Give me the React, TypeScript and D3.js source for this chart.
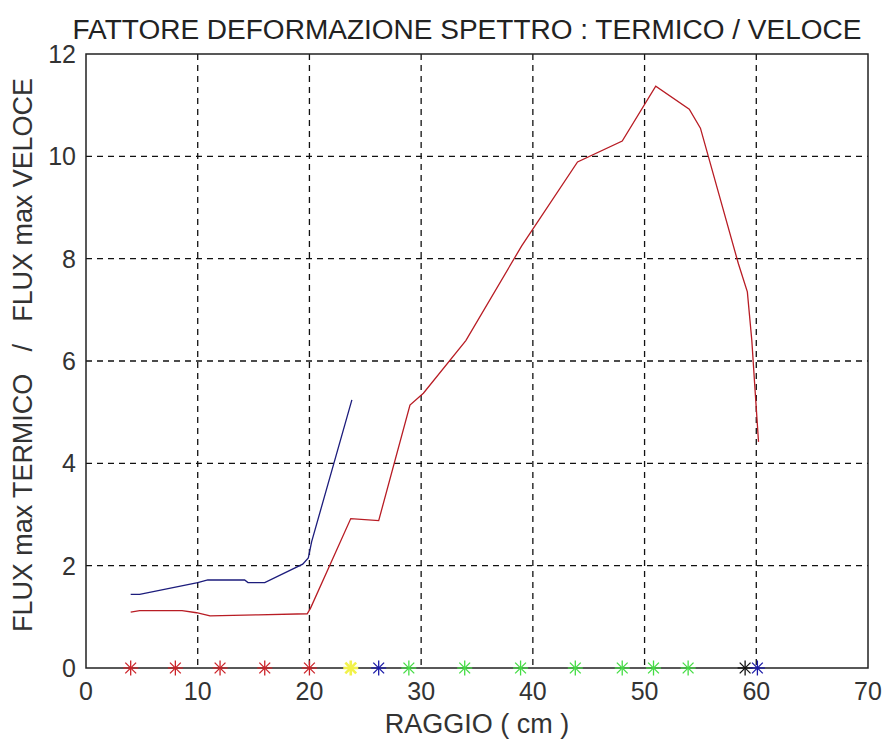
import React from "react";
import * as d3 from "d3";

const W = 885;
const H = 740;
const titleText = "FATTORE DEFORMAZIONE SPETTRO : TERMICO / VELOCE";
const xLabel = "RAGGIO ( cm )";
const yLabel = "FLUX max TERMICO   /   FLUX max VELOCE";

const xTicks = [0, 10, 20, 30, 40, 50, 60, 70];
const yTicks = [0, 2, 4, 6, 8, 10, 12];

// red curve (thermal/fast ratio)
const redX = [4, 4.8, 8.6, 9.9, 11.1, 15.4, 19.8, 20.1, 23.7, 26.2, 29.0, 30.2, 34.0, 39.0, 44.0, 48.0, 51.0, 54.0, 55.0, 58.4, 59.2, 59.6, 59.9, 60.2];
const redY = [1.09, 1.12, 1.12, 1.08, 1.02, 1.04, 1.06, 1.17, 2.92, 2.88, 5.14, 5.37, 6.4, 8.25, 9.89, 10.3, 11.37, 10.92, 10.55, 7.9, 7.35, 6.4, 5.4, 4.42];

// blue curve
const blueX = [4, 4.8, 10.0, 10.9, 14.2, 14.5, 16.0, 19.4, 19.9, 20.2, 23.8];
const blueY = [1.44, 1.44, 1.67, 1.72, 1.72, 1.67, 1.67, 2.03, 2.15, 2.47, 5.24];

// asterisk markers on y = 0
const markerX = [4, 8, 12, 16, 20, 23.7, 26.2, 28.9, 33.9, 38.9, 43.8, 48.0, 50.8, 53.9, 59.0, 60.1];
const markerColor = ["#cc2228", "#cc2228", "#cc2228", "#cc2228", "#cc2228", "#f2f24a", "#1a1aa8", "#44dd44", "#44dd44", "#44dd44", "#44dd44", "#44dd44", "#44dd44", "#44dd44", "#111111", "#1a1aa8"];

const L = 86, R = 868, T = 54, B = 668;

export default function App() {
  const x = d3.scaleLinear().domain([0, 70]).range([L, R]);
  const y = d3.scaleLinear().domain([0, 12]).range([B, T]);
  const line = d3.line<[number, number]>().x((d) => x(d[0])).y((d) => y(d[1]));
  const redPath = line(redX.map((v, i) => [v, redY[i]]) as [number, number][]) || "";
  const bluePath = line(blueX.map((v, i) => [v, blueY[i]]) as [number, number][]) || "";
  const font = "Arial, 'Liberation Sans', sans-serif";
  const s = 7.5;
  const d2 = s * 0.72;

  return (
    <svg width={W} height={H} style={{ position: "absolute", left: 0, top: 0, background: "#fff" }} fontFamily={font}>
      <rect x={0} y={0} width={W} height={H} fill="#fff" />
      {/* grid */}
      {xTicks.slice(1, -1).map((t) => (
        <line key={"gx" + t} x1={x(t)} x2={x(t)} y1={T} y2={B} stroke="#111" strokeWidth={1.3} strokeDasharray="6,5" />
      ))}
      {yTicks.slice(1, -1).map((t) => (
        <line key={"gy" + t} x1={L} x2={R} y1={y(t)} y2={y(t)} stroke="#111" strokeWidth={1.3} strokeDasharray="6,5" />
      ))}
      {/* box */}
      <rect x={L} y={T} width={R - L} height={B - T} fill="none" stroke="#222" strokeWidth={1.5} />
      {/* lines */}
      <path d={bluePath} fill="none" stroke="#1c1c7c" strokeWidth={1.3} />
      <path d={redPath} fill="none" stroke="#b81c24" strokeWidth={1.3} />
      {/* markers */}
      {markerX.map((mx, i) => {
        const cx = x(mx);
        const cy = y(0);
        const c = markerColor[i];
        const sw = c === "#f2f24a" ? 2.6 : 1.3;
        return (
          <g key={"m" + i} stroke={c} strokeWidth={sw}>
            <line x1={cx - s} x2={cx + s} y1={cy} y2={cy} />
            <line x1={cx} x2={cx} y1={cy - s} y2={cy + s} />
            <line x1={cx - d2} x2={cx + d2} y1={cy - d2} y2={cy + d2} />
            <line x1={cx - d2} x2={cx + d2} y1={cy + d2} y2={cy - d2} />
          </g>
        );
      })}
      {/* tick labels */}
      {xTicks.map((t) => (
        <text key={"xt" + t} x={x(t)} y={700} textAnchor="middle" fontSize={25} fill="#333">
          {t}
        </text>
      ))}
      {yTicks.map((t) => (
        <text key={"yt" + t} x={76} y={y(t) + 9} textAnchor="end" fontSize={25} fill="#333">
          {t}
        </text>
      ))}
      {/* labels */}
      <text x={467} y={39} textAnchor="middle" fontSize={27} fill="#222" textLength={789} lengthAdjust="spacingAndGlyphs">
        {titleText}
      </text>
      <text x={(R + L) / 2} y={733} textAnchor="middle" fontSize={27} fill="#333">
        {xLabel}
      </text>
      <text transform={`translate(32,355) rotate(-90)`} textAnchor="middle" fontSize={27} fill="#333" style={{ whiteSpace: "pre" }} textLength={554} lengthAdjust="spacing">
        {yLabel}
      </text>
    </svg>
  );
}
